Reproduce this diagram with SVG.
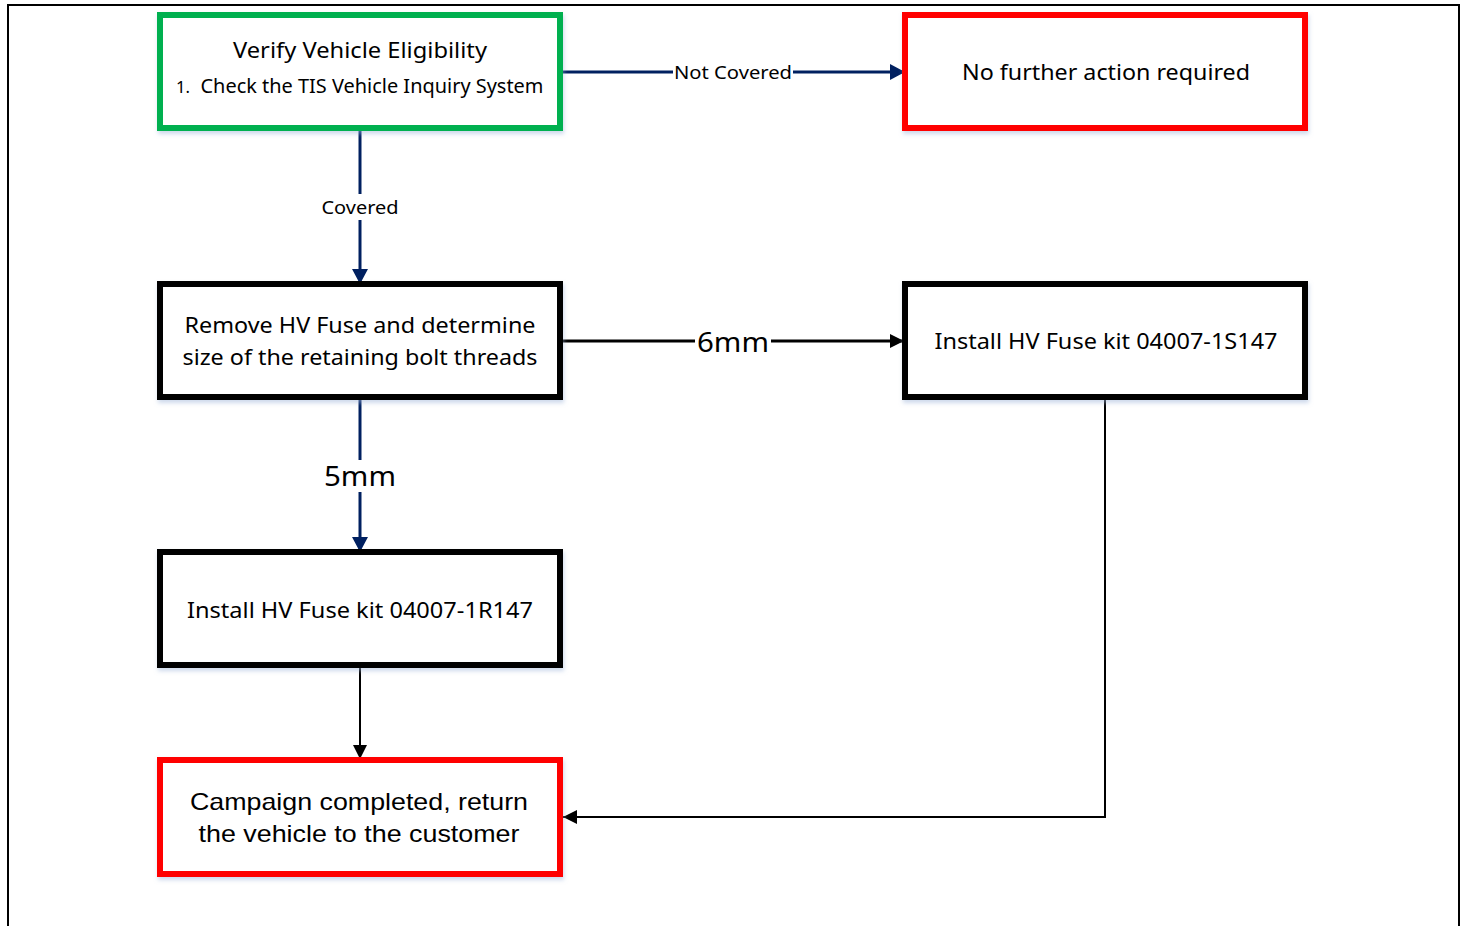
<svg xmlns="http://www.w3.org/2000/svg" width="1465" height="926" viewBox="0 0 1465 926">
<style>
.box{fill:#fff;stroke-width:6}
.g{stroke:#00b050}.r{stroke:#ff0000}.k{stroke:#000}
.t{font-family:"Noto Sans","Open Sans",sans-serif;fill:#000;text-anchor:middle}
.a{font-family:"Liberation Sans",Arial,sans-serif;fill:#000;text-anchor:middle}
.nv{stroke:#002060;stroke-width:3;fill:none}
.bk{stroke:#000;stroke-width:3;fill:none}
.bt{stroke:#000;stroke-width:2;fill:none}
.lb{fill:#fff}
</style>
<defs>
<marker id="an" markerUnits="userSpaceOnUse" markerWidth="18" markerHeight="18" refX="15" refY="8" orient="auto"><path d="M0,0 L15,8 L0,16 Z" fill="#002060"/></marker>
<marker id="ak" markerUnits="userSpaceOnUse" markerWidth="18" markerHeight="18" refX="14" refY="7" orient="auto"><path d="M0,0 L14,7 L0,14 Z" fill="#000"/></marker>
<filter id="sh" x="-5%" y="-5%" width="110%" height="120%"><feDropShadow dx="1" dy="3" stdDeviation="2" flood-color="#9db4d8" flood-opacity="0.5"/></filter>
</defs>
<rect x="0" y="0" width="1465" height="926" fill="#fff"/>
<path d="M8,926 V5 H1459 V926" fill="none" stroke="#000" stroke-width="2"/>
<g id="connectors">
<line class="nv" x1="563" y1="72" x2="905" y2="72" marker-end="url(#an)"/>
<rect class="lb" x="673" y="60" width="120" height="24"/>
<text class="t" x="733" y="79" font-size="18" textLength="118" lengthAdjust="spacingAndGlyphs">Not Covered</text>
<line class="nv" x1="360" y1="131" x2="360" y2="284" marker-end="url(#an)"/>
<rect class="lb" x="318" y="194" width="84" height="26"/>
<text class="t" x="360" y="214" font-size="18" textLength="77" lengthAdjust="spacingAndGlyphs">Covered</text>
<line class="bk" x1="563" y1="341" x2="904" y2="341" marker-end="url(#ak)"/>
<rect class="lb" x="695" y="326" width="76" height="32"/>
<text class="t" x="733" y="352" font-size="28" textLength="72" lengthAdjust="spacingAndGlyphs">6mm</text>
<line class="nv" x1="360" y1="400" x2="360" y2="552" marker-end="url(#an)"/>
<rect class="lb" x="321" y="460" width="78" height="32"/>
<text class="t" x="360" y="486" font-size="28" textLength="72" lengthAdjust="spacingAndGlyphs">5mm</text>
<line class="bt" x1="360" y1="668" x2="360" y2="759" marker-end="url(#ak)"/>
<polyline class="bt" points="1105,400 1105,817 563,817" marker-end="url(#ak)"/>
</g>
<g id="n1">
<rect class="box g" x="160" y="15" width="400" height="113" filter="url(#sh)"/>
<text class="t" x="360" y="58" font-size="22" textLength="254" lengthAdjust="spacingAndGlyphs">Verify Vehicle Eligibility</text>
<text class="t" x="183" y="93" font-size="16" textLength="14" lengthAdjust="spacingAndGlyphs">1.</text>
<text class="t" x="372" y="93" font-size="19" textLength="343" lengthAdjust="spacingAndGlyphs">Check the TIS Vehicle Inquiry System</text>
</g>
<g id="n2">
<rect class="box r" x="905" y="15" width="400" height="113" filter="url(#sh)"/>
<text class="t" x="1106" y="80" font-size="22" textLength="288" lengthAdjust="spacingAndGlyphs">No further action required</text>
</g>
<g id="n3">
<rect class="box k" x="160" y="284" width="400" height="113" filter="url(#sh)"/>
<text class="t" x="360" y="333" font-size="22" textLength="351" lengthAdjust="spacingAndGlyphs">Remove HV Fuse and determine</text>
<text class="t" x="360" y="365" font-size="22" textLength="355" lengthAdjust="spacingAndGlyphs">size of the retaining bolt threads</text>
</g>
<g id="n4">
<rect class="box k" x="905" y="284" width="400" height="113" filter="url(#sh)"/>
<text class="t" x="1106" y="349" font-size="22" textLength="343" lengthAdjust="spacingAndGlyphs">Install HV Fuse kit 04007-1S147</text>
</g>
<g id="n5">
<rect class="box k" x="160" y="552" width="400" height="113" filter="url(#sh)"/>
<text class="t" x="360" y="618" font-size="22" textLength="346" lengthAdjust="spacingAndGlyphs">Install HV Fuse kit 04007-1R147</text>
</g>
<g id="n6">
<rect class="box r" x="160" y="760" width="400" height="114" filter="url(#sh)"/>
<text class="a" x="359" y="810" font-size="24" textLength="338" lengthAdjust="spacingAndGlyphs">Campaign completed, return</text>
<text class="a" x="359" y="842" font-size="24" textLength="321" lengthAdjust="spacingAndGlyphs">the vehicle to the customer</text>
</g>
</svg>
